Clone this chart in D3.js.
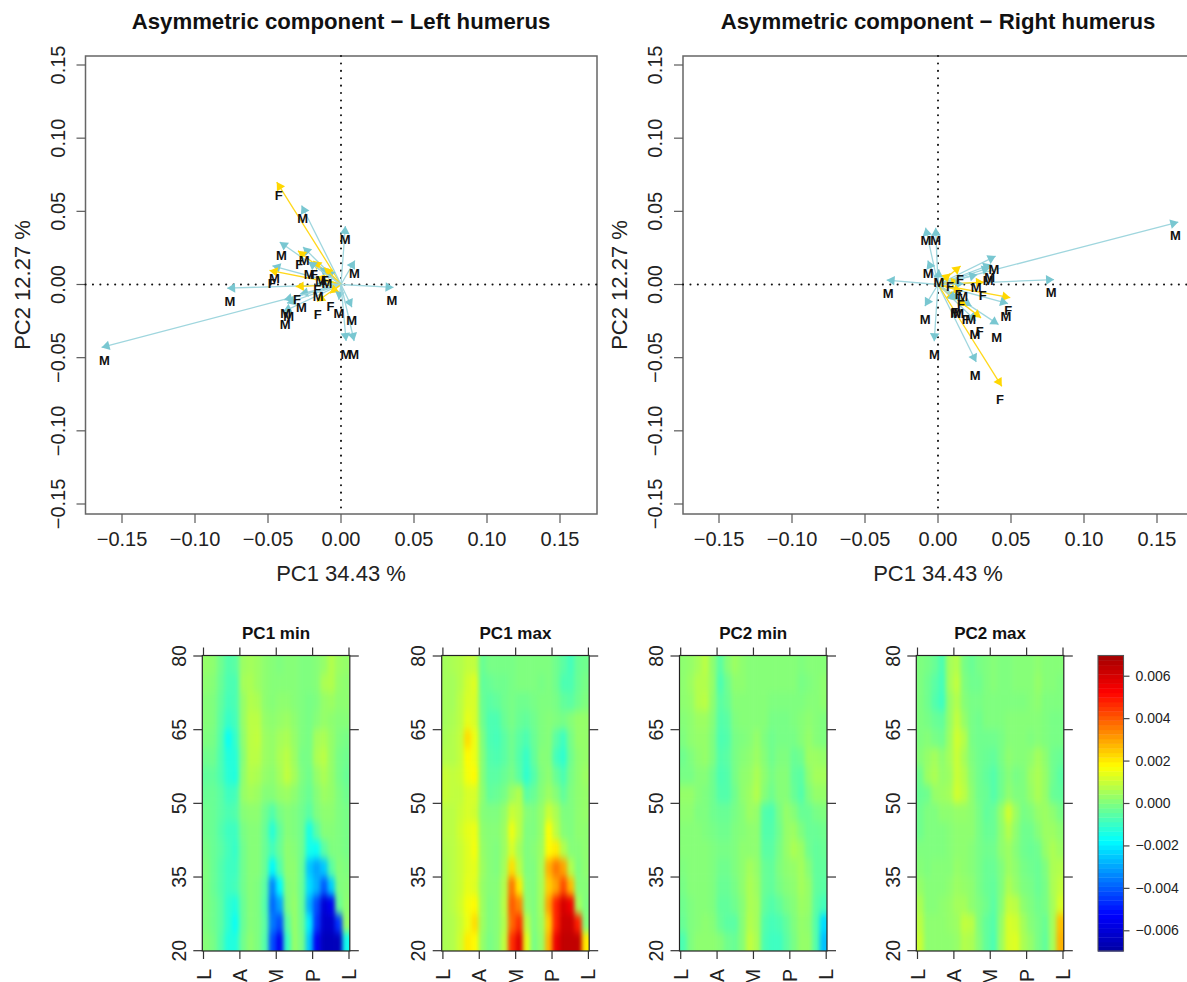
<!DOCTYPE html>
<html><head><meta charset="utf-8">
<script src="https://cdn.jsdelivr.net/npm/d3@7/dist/d3.min.js"></script>
<style>
html,body{margin:0;padding:0;background:#fff;overflow:hidden}
svg{display:block;font-family:"Liberation Sans",Arial,sans-serif}
</style></head><body>
<svg id="c" width="1187" height="982"></svg>
<script>
// ---------- PCA arrows: left humerus ----------
const leftSex = ["M","M","M","F","M","M","M","M","M","F","F","M","M","M","F","F","M","M","M","M","F","F","F","M","M","M","M","M","F","M"];
const leftPC1 = [-0.164,-0.078,0.036,-0.044,-0.027,0.003,-0.042,0.0095,-0.026,-0.0295,-0.019,-0.0144,-0.010,-0.047,-0.049,-0.031,-0.028,-0.039,-0.037,-0.0395,-0.0075,-0.0165,-0.0167,-0.0162,-0.0015,0.0075,0.0035,0.009,-0.0114,-0.0224];
const leftPC2 = [-0.043,-0.0025,-0.002,0.070,0.054,0.040,0.029,0.0164,0.0256,0.023,0.016,0.0116,0.010,0.0128,0.0096,-0.0014,-0.0064,-0.0105,-0.0128,-0.0185,-0.006,-0.0116,0.0053,0.0007,-0.0105,-0.0155,-0.0386,-0.0386,0.0116,0.0155];
// ---------- PCA arrows: right humerus ----------
const rightSex = ["M","M","M","M","M","M","M","M","M","M","M","F","F","F","F","F","M","M","F","M","M","F","M","F","M","F","M","M","F","M","M"];
const rightPC1 = [0.1646,0.0795,-0.0352,-0.0085,-0.0016,-0.007,0.0007,0.0395,0.0365,0.0355,0.027,0.0315,0.0155,0.0085,0.0146,0.0495,0.048,0.0415,0.0295,0.026,0.023,0.0195,0.0175,0.0162,0.0146,0.0116,0.0125,0.0262,0.0437,-0.0026,-0.009];
const rightPC2 = [0.0427,0.0034,0.003,0.0388,0.0388,0.0164,0.0103,0.0194,0.0137,0.0115,0.0068,0.0016,0.0126,0.0075,0.0023,-0.009,-0.013,-0.0274,-0.0228,-0.025,-0.0148,-0.0148,0.0005,-0.0046,-0.011,-0.0103,-0.0105,-0.053,-0.0696,-0.0388,-0.0148];
// ---------- axis ticks ----------
const pcTicks = [-0.15,-0.10,-0.05,0,0.05,0.10,0.15];
const ageTicks = [20,35,50,65,80];
const regionTicks = ["L","A","M","P","L"];
const barTicks = [-0.006,-0.004,-0.002,0,0.002,0.004,0.006];
const barLimit = 0.00696;
// ---------- heat maps, read row by row from age 80 (top) to age 20, unit 0.0001 ----------
const pc1Min = [
[3,2,-2,-6,-5,4,5,4,2,1,0,1,1,0,0,1,3,7,4,3],
[2,1,-3,-7,-7,5,6,4,2,1,1,1,1,0,0,1,6,7,3,2],
[1,0,-4,-8,-7,3,7,6,2,1,2,2,1,0,-1,0,3,4,2,2],
[1,0,-5,-10,-8,3,8,8,3,2,3,4,2,0,-1,1,3,2,1,1],
[0,-1,-6,-16,-10,2,8,9,4,3,5,6,3,0,-1,5,6,3,0,-1],
[-2,-2,-7,-13,-12,1,8,8,4,3,6,8,4,-1,-1,6,8,3,-1,-2],
[-4,-4,-7,-12,-13,2,7,6,3,2,5,9,5,0,-2,3,6,3,-1,-3],
[-3,-3,-5,-9,-8,3,5,4,1,1,3,4,2,-1,-3,1,4,3,0,-2],
[-2,-3,-5,-7,-6,1,2,2,-2,-6,-1,1,0,-2,-5,0,2,2,0,-1],
[-2,-3,-6,-9,-9,-1,1,1,-3,-12,-4,1,0,-2,-14,-5,1,1,0,-1],
[-1,-3,-5,-8,-10,-2,1,1,-3,-8,-3,2,1,-2,-15,-16,-5,0,0,-1],
[0,-3,-6,-9,-9,-2,1,1,-3,-18,-6,2,2,-3,-25,-30,-25,-5,1,0],
[0,-3,-6,-9,-8,-2,1,0,-5,-34,-18,1,2,-3,-22,-28,-40,-24,0,1],
[0,-2,-5,-11,-13,-3,1,0,-6,-38,-30,0,3,-3,-28,-42,-60,-55,-3,2],
[0,-2,-5,-11,-16,-3,1,0,-5,-36,-42,-5,3,-2,-20,-45,-62,-62,-45,3],
[1,-1,-6,-13,-13,-2,2,0,-6,-42,-55,-10,3,-1,-25,-55,-65,-65,-65,-15]];
const pc1Max = [
[5,6,7,9,9,-3,-1,-1,-1,-1,0,0,0,0,0,-2,-5,-8,-3,-2],
[5,5,7,11,13,-4,-3,-2,-2,-1,0,0,0,-1,0,-2,-7,-7,-3,-1],
[5,5,8,12,12,-3,-5,-4,-2,-1,-2,-2,-1,0,0,-1,-4,-5,-2,0],
[5,6,8,14,12,-2,-7,-7,-3,-1,-3,-4,-2,0,1,0,-1,1,3,3],
[6,7,9,22,15,0,-7,-8,-5,-2,-5,-7,-3,0,1,-5,-9,-1,3,3],
[7,7,9,18,15,1,-6,-7,-5,-2,-6,-10,-4,1,1,-8,-11,-2,2,3],
[10,9,10,16,18,1,-5,-5,-3,-1,-5,-11,-6,0,2,-3,-7,-1,2,4],
[10,9,9,12,12,2,-4,-3,-1,4,7,-5,-3,1,4,1,-4,0,2,3],
[8,8,10,12,11,1,0,0,3,10,8,1,0,3,10,6,0,0,2,3],
[8,8,11,14,15,2,1,1,4,15,8,0,0,3,17,8,1,0,2,2],
[7,8,10,13,16,3,1,0,4,12,5,0,1,4,18,20,7,1,1,2],
[6,8,10,13,14,4,1,0,5,22,8,0,0,5,28,36,30,7,0,2],
[6,8,10,14,13,3,1,1,7,36,20,1,0,5,24,30,42,27,1,1],
[6,8,11,16,18,4,0,1,8,40,34,2,0,5,30,48,60,55,5,0],
[6,7,10,15,22,4,0,1,7,38,46,8,0,4,24,48,62,62,48,1],
[6,7,11,20,18,3,-1,1,9,46,58,14,-1,3,28,56,64,64,64,20]];
const pc2Min = [
[2,3,5,8,2,-5,1,4,2,1,1,1,1,1,1,1,0,1,1,1],
[2,4,7,7,3,-7,-2,2,2,1,1,1,1,1,1,1,-1,0,1,2],
[2,3,7,8,2,-5,-3,1,1,1,1,1,0,0,0,0,0,1,1,2],
[1,2,4,4,1,-6,-5,0,1,1,1,1,-1,-1,-1,0,1,2,1,0],
[0,2,3,3,0,-7,-6,-1,0,1,3,0,-2,-1,-1,-1,1,3,1,0],
[-2,0,2,3,0,-6,-5,-1,1,2,4,1,-2,0,0,-3,-2,4,4,3],
[-1,-1,1,1,-2,-7,-6,-1,2,3,6,2,-1,1,1,-4,-5,2,5,5],
[3,3,1,0,-2,-6,-6,-2,2,4,7,1,-2,1,1,-3,-6,0,3,3],
[2,2,0,0,-2,-3,-3,-1,1,4,3,-6,-7,-1,3,1,-3,-3,-1,0],
[1,1,1,0,-1,-2,-2,0,1,2,2,-6,-6,-2,3,4,0,-3,-3,-2],
[1,1,1,1,0,-1,-1,0,2,2,2,-5,-5,-1,3,6,4,-2,-4,-3],
[0,1,1,1,0,-2,-2,0,2,5,3,-3,-4,0,2,3,5,1,-4,-4],
[-1,1,1,1,0,-3,-3,-1,2,6,4,-3,-4,-1,1,2,5,3,-4,-5],
[-2,0,1,1,0,-4,-4,-2,1,6,5,-4,-6,-4,-1,1,4,3,-5,-8],
[-3,0,1,2,1,-3,-5,-5,1,7,5,-6,-8,-7,-4,0,3,2,-6,-22],
[-7,0,2,2,2,1,-2,-3,1,9,6,-7,-9,-9,-5,-1,3,3,-6,-26]];
const pc2Max = [
[0,-1,-3,-7,5,7,-1,-3,-1,0,1,0,0,1,1,1,2,1,1,1],
[0,-2,-5,-8,5,9,0,-2,-2,0,1,0,0,1,1,1,3,1,1,0],
[0,-2,-6,-9,3,7,1,-1,-1,0,0,0,0,0,0,1,2,0,0,0],
[0,-1,-3,-4,3,9,3,-1,-2,0,0,0,1,1,1,1,1,0,-1,-1],
[0,1,-1,-2,4,11,7,-1,-2,-2,-2,-1,1,1,1,0,1,0,-1,-1],
[1,3,5,2,5,10,5,0,-2,-3,-4,-1,2,1,1,2,5,2,-2,-3],
[-2,4,6,3,4,10,7,1,-2,-4,-6,-2,1,-1,0,4,6,3,-2,-5],
[-3,-2,3,4,5,11,8,2,-2,-3,-6,-2,2,0,0,3,6,3,-3,-4],
[-2,0,0,2,2,3,3,2,-1,-4,-3,3,11,4,-1,0,3,4,2,-1],
[-2,0,0,0,1,2,2,2,-1,-3,-3,2,7,2,-2,-2,1,4,4,2],
[0,0,0,0,1,2,2,1,-1,-2,-2,2,4,1,-2,-3,-2,3,6,4],
[1,0,1,1,1,3,2,1,-1,-3,-3,0,4,2,-1,-2,-3,0,6,7],
[3,1,1,1,2,4,3,2,-1,-3,-4,0,6,3,0,-1,-3,-1,6,9],
[6,1,1,2,3,5,5,2,0,-2,-5,1,9,8,2,0,-2,-1,5,12],
[8,2,2,2,3,4,9,8,0,-4,-6,3,12,11,5,1,-1,-3,5,26],
[10,2,2,2,2,3,7,6,1,-4,-7,4,12,13,6,3,-1,-4,5,28]];

const svg = d3.select("#c");
const fmt = v => (v<0?"\u2212":"")+Math.abs(v).toFixed(2);
const GRAY="#5a5a5a", BOXGRAY="#666";
const jet = d3.scaleLinear()
  .domain([-0.007,-0.00525,-0.0035,-0.00175,0,0.00175,0.0035,0.00525,0.007])
  .range(["#0000a0","#0000ff","#007fff","#00ffff","#7fff7f","#ffff00","#ff7f00","#ff0000","#a00000"])
  .clamp(true);

function styleAxis(g,stroke){
  g.select(".domain").remove();
  g.selectAll(".tick line").attr("stroke",stroke).attr("stroke-width",1.2);
}
function scatter(opt){
  const x=d3.scaleLinear().domain([-0.15,0.15]).range(opt.xr);
  const y=d3.scaleLinear().domain([-0.15,0.15]).range([504,65]);
  const L=opt.box[0],R=opt.box[1],T=56,B=514;
  const g=svg.append("g");
  g.append("rect").attr("x",L).attr("y",T).attr("width",R-L).attr("height",B-T)
    .attr("fill","none").attr("stroke",BOXGRAY).attr("stroke-width",1.5);
  const ax=g.append("g").attr("transform",`translate(0,${B})`)
    .call(d3.axisBottom(x).tickValues(pcTicks).tickFormat(fmt).tickSize(9).tickPadding(0).offset(0));
  styleAxis(ax,GRAY);
  ax.selectAll("text").attr("y",0).attr("dy",0).attr("transform","translate(0,32)")
    .attr("font-size",20).attr("fill","#222");
  const ay=g.append("g").attr("transform",`translate(${L},0)`)
    .call(d3.axisLeft(y).tickValues(pcTicks).tickFormat(fmt).tickSize(9).offset(0));
  styleAxis(ay,GRAY);
  ay.selectAll("text").attr("x",0).attr("dy",0).attr("text-anchor","middle")
    .attr("transform","translate(-21,0) rotate(-90)").attr("font-size",20).attr("fill","#222");
  const zero=[[x(0),T,x(0),B],[L,y(0),R,y(0)]];
  g.selectAll(".zero").data(zero).enter().append("line").attr("class","zero")
    .attr("x1",d=>d[0]).attr("y1",d=>d[1]).attr("x2",d=>d[2]).attr("y2",d=>d[3])
    .attr("stroke","#111").attr("stroke-width",2).attr("stroke-linecap","round").attr("stroke-dasharray","0.1 7.3");
  const pts=opt.px.map((v,i)=>({x:v,y:opt.py[i],s:opt.sex[i]}));
  const lineCol={M:"#9fd6de",F:"#ffd81a"}, headCol={M:"#79c7d1",F:"#ffd700"};
  const ar=g.append("g").selectAll("g").data(pts).enter().append("g");
  ar.append("line").attr("x1",x(0)).attr("y1",y(0))
    .attr("x2",d=>x(d.x)).attr("y2",d=>y(d.y))
    .attr("stroke",d=>lineCol[d.s]).attr("stroke-width",1.3);
  ar.append("path").attr("d","M0,0L-8,-4.8L-8,4.8Z")
    .attr("transform",d=>{
      const a=Math.atan2(y(d.y)-y(0),x(d.x)-x(0))*180/Math.PI;
      return `translate(${x(d.x)},${y(d.y)}) rotate(${a})`;})
    .attr("fill",d=>headCol[d.s]);
  g.append("g").selectAll("text").data(pts).enter().append("text")
    .attr("x",d=>x(d.x-Math.sign(d.x)*Math.min(0.002,Math.abs(d.x)*0.03))).attr("y",d=>y(d.y)+13)
    .attr("dy","0.36em").attr("text-anchor","middle")
    .attr("font-weight","bold").attr("font-size",13).attr("fill","#111").text(d=>d.s);
  g.append("text").attr("x",opt.cx).attr("y",28.5).attr("text-anchor","middle")
    .attr("font-weight","bold").attr("font-size",22.2).attr("fill","#111").text(opt.title);
  g.append("text").attr("x",opt.cx).attr("y",581).attr("text-anchor","middle")
    .attr("font-size",22).attr("fill","#222").text("PC1 34.43 %");
  g.append("text").attr("transform",`translate(${opt.cx-311},285) rotate(-90)`).attr("text-anchor","middle")
    .attr("font-size",22).attr("fill","#222").text("PC2 12.27 %");
}
scatter({title:"Asymmetric component \u2212 Left humerus",xr:[122,560],box:[85.5,597],cx:341,px:leftPC1,py:leftPC2,sex:leftSex});
scatter({title:"Asymmetric component \u2212 Right humerus",xr:[719,1157],box:[683,1196],cx:938,px:rightPC1,py:rightPC2,sex:rightSex});

// ---------- heat maps ----------
const defs=svg.append("defs");
defs.append("filter").attr("id","soft").attr("x","-15%").attr("y","-15%").attr("width","130%").attr("height","130%")
  .attr("color-interpolation-filters","sRGB")
  .append("feGaussianBlur").attr("stdDeviation","2 4");
const T=655.5,B=951,W=147.5;
const ageY=d3.scaleLinear().domain([20,80]).range([950.7,656]);
function heat(name,data,L,id){
  const R=L+W;
  const nr=data.length,nc=data[0].length,pad=20;
  const cx=d3.scaleBand().domain(d3.range(nc)).range([L,R]);
  const cy=d3.scaleBand().domain(d3.range(nr)).range([T,B]);
  const g=svg.append("g");
  defs.append("clipPath").attr("id",id).append("rect").attr("x",L).attr("y",T).attr("width",W).attr("height",B-T);
  const cells=data.flatMap((row,r)=>row.map((v,c)=>({r,c,v:v*1e-4})));
  g.append("g").attr("clip-path",`url(#${id})`).append("g").attr("filter","url(#soft)")
    .selectAll("rect").data(cells).enter().append("rect")
    .attr("x",d=>cx(d.c)-(d.c===0?pad:0))
    .attr("y",d=>cy(d.r)-(d.r===0?pad:0))
    .attr("width",d=>cx.bandwidth()+0.5+((d.c===0||d.c===nc-1)?pad:0))
    .attr("height",d=>cy.bandwidth()+0.5+((d.r===0||d.r===nr-1)?pad:0))
    .attr("fill",d=>jet(d.v));
  g.append("rect").attr("x",L).attr("y",T).attr("width",W).attr("height",B-T)
    .attr("fill","none").attr("stroke","#222").attr("stroke-width",1.2);
  const pos=d3.scalePoint().domain(d3.range(regionTicks.length)).range([L+1.2,R-0.8]);
  const fx=i=>regionTicks[i];
  const ab=g.append("g").attr("transform",`translate(0,${B})`)
    .call(d3.axisBottom(pos).tickFormat(fx).tickSize(8).offset(0));
  styleAxis(ab,"#333");
  ab.selectAll("text").attr("y",0).attr("dy",0).attr("text-anchor","end").attr("dominant-baseline","central")
    .attr("transform","translate(0,18) rotate(-90)").attr("font-size",19.5).attr("fill","#222");
  const at=g.append("g").attr("transform",`translate(0,${T})`)
    .call(d3.axisTop(pos).tickFormat("").tickSize(8).offset(0));
  styleAxis(at,"#333");
  const al=g.append("g").attr("transform",`translate(${L},0)`)
    .call(d3.axisLeft(ageY).tickValues(ageTicks).tickFormat(d3.format("d")).tickSize(9).offset(0));
  styleAxis(al,"#333");
  al.selectAll("text").attr("x",0).attr("dy",0).attr("text-anchor","middle")
    .attr("transform","translate(-16.5,0) rotate(-90)").attr("font-size",19.5).attr("fill","#222");
  const ar=g.append("g").attr("transform",`translate(${R},0)`)
    .call(d3.axisRight(ageY).tickValues(ageTicks).tickFormat("").tickSize(9).offset(0));
  styleAxis(ar,"#333");
  g.append("text").attr("x",(L+R)/2).attr("y",639).attr("text-anchor","middle")
    .attr("font-weight","bold").attr("font-size",17).attr("fill","#111").text(name);
}
heat("PC1 min",pc1Min,202.3,"h1");
heat("PC1 max",pc1Max,441.7,"h2");
heat("PC2 min",pc2Min,679.5,"h3");
heat("PC2 max",pc2Max,916.3,"h4");

// ---------- colour key ----------
const barY=d3.scaleLinear().domain([-0.007,0.007]).range([952,655]);
const bands=d3.range(64).map(i=>-barLimit+(i+0.5)*2*barLimit/64);
const bw=2*barLimit/64;
const key=svg.append("g");
key.append("g").selectAll("rect").data(bands).enter().append("rect")
  .attr("x",1098).attr("width",25.5)
  .attr("y",d=>barY(d+bw/2)).attr("height",d=>barY(d-bw/2)-barY(d+bw/2)+0.4)
  .attr("fill",d=>jet(d));
key.append("rect").attr("x",1098).attr("y",655.5).attr("width",25.5).attr("height",295.5)
  .attr("fill","none").attr("stroke","#555").attr("stroke-width",1.1);
const keyAxis=key.append("g").attr("transform","translate(1123.5,0)")
  .call(d3.axisRight(barY).tickValues(barTicks).tickFormat(d=>(d<0?"\u2212":"")+Math.abs(d).toFixed(3)).tickSize(6).tickPadding(6).offset(0));
styleAxis(keyAxis,"#444");
keyAxis.selectAll("text").attr("font-size",14).attr("fill","#222");
</script>
</body></html>
